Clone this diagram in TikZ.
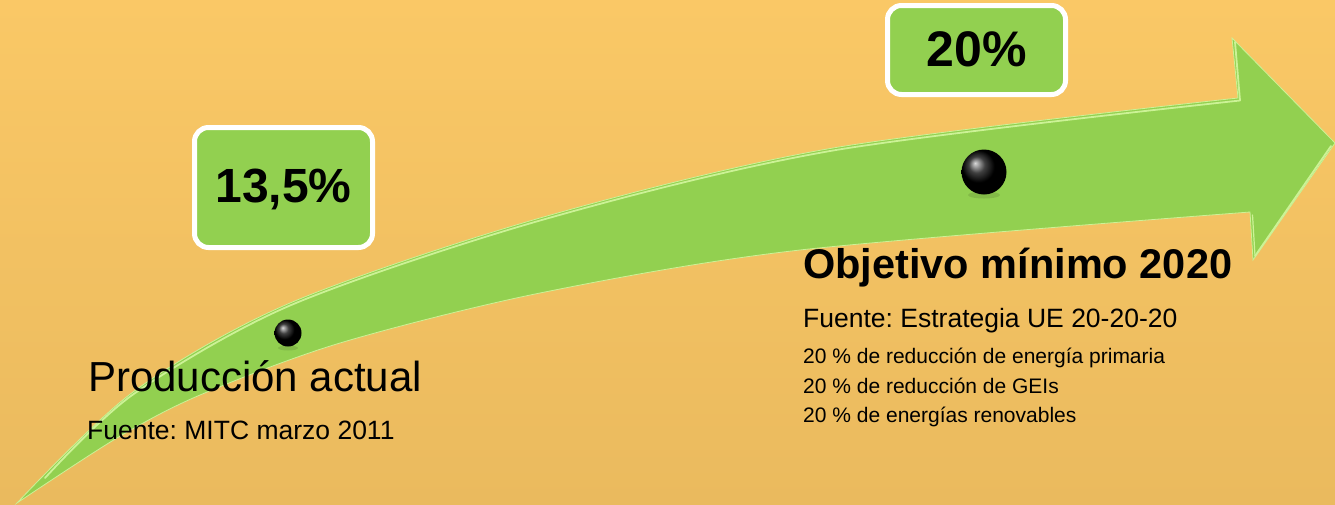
\documentclass[tikz,border=0pt]{standalone}
\usepackage{fontspec}
\setmainfont{Liberation Sans}
\frenchspacing
\definecolor{bgtop}{RGB}{250,200,102}
\definecolor{bgbot}{RGB}{234,186,94}
\definecolor{arrowgreen}{RGB}{146,208,80}
\definecolor{hlgreen}{RGB}{204,242,150}
\begin{document}
\begin{tikzpicture}[x=1pt,y=-1pt,
  pctbox/.style={draw=white, line width=5pt, fill=arrowgreen, rounded corners=14pt,
    inner sep=0pt, text=black, font=\fontsize{48}{56}\selectfont\bfseries},
  ballnode/.style={circle, inner sep=0pt, shading=ball, ball color=black},
  lbl/.style={anchor=base west, inner sep=0pt, text=black}]

\useasboundingbox (0,0) rectangle (1335,504);
\shade[top color=bgtop, bottom color=bgbot] (0,0) rectangle (1335,504);

% curved arrow
\fill[arrowgreen, draw=hlgreen, line width=0.8pt]
  plot[smooth] coordinates {(17,503) (133,392) (290,303) (540,218) (833,148) (1238,98)}
  -- (1232,38) -- (1335,143) -- (1253,260) -- (1250,212)
  -- plot[smooth] coordinates {(1250,212) (800,250) (540,293) (340,343) (200,395)
    (117,438) (17,503)}
  -- cycle;
% bevel highlights
\draw[hlgreen, line width=1.8pt, line cap=round]
  plot[smooth] coordinates {(45,478) (133,394.5) (290,305.5) (540,220.5) (833,150.5) (1240,100.5)};
\draw[hlgreen, line width=1.8pt, line cap=round] (1240,100.5) -- (1235,42);
\draw[hlgreen, line width=1.8pt, line cap=round] (1255,256) -- (1331,146);
\draw[hlgreen, line width=1.2pt, line cap=round] (1252.5,215) -- (1255,256);

% shadows under the balls
\fill[black, opacity=0.10] (288,348) ellipse (10 and 2.5);
\fill[black, opacity=0.10] (984,195) ellipse (16 and 3.5);

% balls
\node[ballnode, minimum size=27pt] (b1) at (288,333) {};
\node[ballnode, minimum size=45pt] (b2) at (984,172) {};

% percentage boxes
\node[pctbox, minimum width=178pt, minimum height=120pt, text height=30.4pt, text depth=0pt]
  (p1) at (283.5,187.5) {13,5\%};
\node[pctbox, minimum width=178pt, minimum height=89pt, text height=33.4pt, text depth=0pt,
  font=\fontsize{50}{58}\selectfont\bfseries]
  (p2) at (976.5,50) {20\%};

% labels
\node[lbl, font=\fontsize{42}{50}\selectfont] (t1) at (88,391) {Producción actual};
\node[lbl, font=\fontsize{26.5}{32}\selectfont] (t2) at (87,439) {Fuente: MITC marzo 2011};

\node[lbl, font=\fontsize{41.5}{48}\selectfont\bfseries] (t3) at (803,278) {Objetivo mínimo 2020};
\node[lbl, font=\fontsize{26.5}{32}\selectfont] (t4) at (803,327) {Fuente: Estrategia UE 20-20-20};
\node[lbl, font=\fontsize{21}{26}\selectfont] (t5) at (803,363) {20 \% de reducción de energía primaria};
\node[lbl, font=\fontsize{21}{26}\selectfont] (t6) at (803,393) {20 \% de reducción de GEIs};
\node[lbl, font=\fontsize{21}{26}\selectfont] (t7) at (803,422) {20 \% de energías renovables};
\end{tikzpicture}
\end{document}
